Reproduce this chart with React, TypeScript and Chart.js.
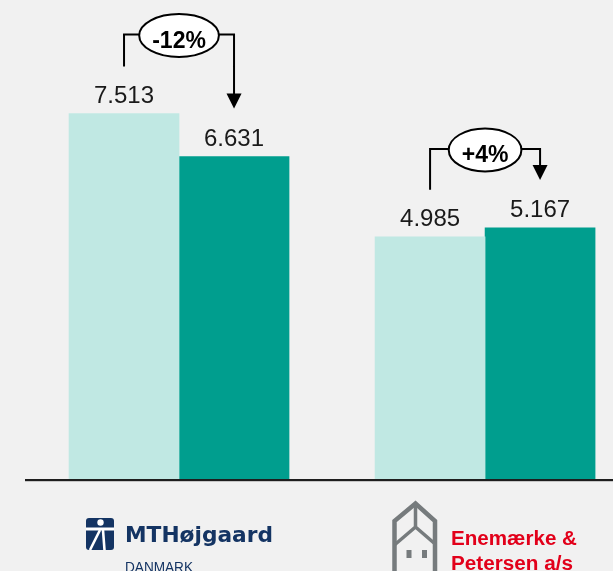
import React, { useEffect, useRef } from "react";
import { Chart, registerables } from "chart.js";

Chart.register(...registerables);

const categories = ["MTHøjgaard", "Enemærke & Petersen a/s"];
const previousValues = [7.513, 4.985];
const currentValues = [6.631, 5.167];
const previousLabels = ["7.513", "4.985"];
const currentLabels = ["6.631", "5.167"];
const changeLabels = ["-12%", "+4%"];

const LIGHT = "#c0e8e3";
const DARK = "#009e8e";
const NAVY = "#143463";
const RED = "#e2001a";
const GRAY = "#767b7d";

function fitText(ctx: CanvasRenderingContext2D, text: string, x: number, y: number, width: number) {
  const w = ctx.measureText(text).width;
  ctx.save();
  ctx.translate(x, y);
  ctx.scale(width / w, 1);
  ctx.fillText(text, 0, 0);
  ctx.restore();
}

const overlayPlugin = {
  id: "overlay",
  afterDatasetsDraw(chart: any) {
    const ctx: CanvasRenderingContext2D = chart.ctx;
    const m0 = chart.getDatasetMeta(0);
    const m1 = chart.getDatasetMeta(1);
    const bottom = chart.chartArea.bottom;
    ctx.save();
    // axis line
    ctx.fillStyle = "#1e1e1e";
    ctx.fillRect(25, bottom - 1, chart.width - 25, 2.2);

    // value labels
    ctx.font = '24px "Liberation Sans", Arial, sans-serif';
    ctx.textAlign = "center";
    ctx.textBaseline = "alphabetic";
    ctx.fillStyle = "#1a1a1a";
    categories.forEach((_, i) => {
      const a = m0.data[i];
      const b = m1.data[i];
      ctx.fillText(previousLabels[i], a.x, a.y - 11);
      ctx.fillText(currentLabels[i], b.x, b.y - 11);
    });

    // change annotations
    categories.forEach((_, i) => {
      const a = m0.data[i];
      const b = m1.data[i];
      const lx = a.x;
      const rx = b.x;
      const lineY = Math.min(a.y, b.y) - 79;
      const leftBottom = a.y - 47;
      const tipY = b.y - 48;
      const cx = (lx + rx) / 2;
      const cy = lineY + 1;
      ctx.font = 'bold 23px "Liberation Sans", Arial, sans-serif';
      const tw = ctx.measureText(changeLabels[i]).width;
      const erx = tw / 2 + 13;
      const ery = 21.5;
      ctx.strokeStyle = "#000";
      ctx.lineWidth = 2;
      ctx.beginPath();
      ctx.moveTo(lx, leftBottom);
      ctx.lineTo(lx, lineY);
      ctx.lineTo(cx, lineY);
      ctx.moveTo(cx, lineY);
      ctx.lineTo(rx, lineY);
      ctx.lineTo(rx, tipY - 14);
      ctx.stroke();
      ctx.fillStyle = "#000";
      ctx.beginPath();
      ctx.moveTo(rx - 7.5, tipY - 15);
      ctx.lineTo(rx + 7.5, tipY - 15);
      ctx.lineTo(rx, tipY);
      ctx.closePath();
      ctx.fill();
      ctx.beginPath();
      ctx.ellipse(cx, cy, erx, ery, 0, 0, Math.PI * 2);
      ctx.fillStyle = "#fff";
      ctx.fill();
      ctx.stroke();
      ctx.fillStyle = "#000";
      ctx.textAlign = "center";
      ctx.fillText(changeLabels[i], cx, cy + 12);
    });

    // MTHøjgaard logo
    ctx.textAlign = "left";
    ctx.fillStyle = NAVY;
    ctx.beginPath();
    (ctx as any).roundRect(86, 518, 28, 32, 3);
    ctx.fill();
    ctx.fillStyle = "#fff";
    ctx.beginPath();
    ctx.arc(100.5, 522.5, 3.2, 0, Math.PI * 2);
    ctx.fill();
    ctx.fillRect(86, 527.5, 28, 3);
    ctx.strokeStyle = "#fff";
    ctx.lineWidth = 2.6;
    ctx.beginPath();
    ctx.moveTo(100, 530);
    ctx.lineTo(90, 550);
    ctx.moveTo(103, 530);
    ctx.lineTo(104.5, 550);
    ctx.stroke();
    ctx.fillStyle = NAVY;
    ctx.font = 'bold 22px "DejaVu Sans", sans-serif';
    fitText(ctx, categories[0], 125, 542, 148);
    ctx.font = '14px "Liberation Sans", Arial, sans-serif';
    fitText(ctx, "DANMARK", 125, 572, 68);

    // Enemærke & Petersen logo
    ctx.strokeStyle = GRAY;
    ctx.lineWidth = 4.5;
    ctx.lineJoin = "miter";
    ctx.beginPath();
    ctx.moveTo(394.5, 580);
    ctx.lineTo(394.5, 521);
    ctx.lineTo(415.5, 503.5);
    ctx.lineTo(435, 521);
    ctx.lineTo(435, 580);
    ctx.stroke();
    ctx.lineWidth = 3.5;
    ctx.beginPath();
    ctx.moveTo(415.5, 504);
    ctx.lineTo(415.5, 528);
    ctx.moveTo(395, 544.5);
    ctx.lineTo(415.5, 527);
    ctx.lineTo(434, 543);
    ctx.stroke();
    ctx.fillStyle = GRAY;
    ctx.fillRect(406.5, 550, 5, 8);
    ctx.fillRect(422, 550, 5, 8);
    ctx.fillStyle = RED;
    ctx.font = 'bold 20px "Liberation Sans", Arial, sans-serif';
    fitText(ctx, "Enemærke &", 451, 545, 126);
    fitText(ctx, "Petersen a/s", 451, 570, 122);
    ctx.restore();
  },
};

export default function App() {
  const ref = useRef<HTMLCanvasElement | null>(null);
  useEffect(() => {
    if (!ref.current) return;
    const chart = new Chart(ref.current, {
      type: "bar",
      data: {
        datasets: [
          {
            label: "Previous",
            data: previousValues.map((v, i) => ({ x: i, y: v })),
            backgroundColor: LIGHT,
            borderWidth: 0,
            barThickness: 110,
          },
          {
            label: "Current",
            data: currentValues.map((v, i) => ({ x: i, y: v })),
            backgroundColor: DARK,
            borderWidth: 0,
            barThickness: 110,
          },
        ],
      },
      options: {
        animation: false,
        responsive: false,
        devicePixelRatio: 1,
        layout: { padding: { top: 0, bottom: 91, left: 0, right: 0 } },
        plugins: { legend: { display: false }, tooltip: { enabled: false } },
        scales: {
          x: { type: "linear", min: -0.585, max: 1.418, offset: false, display: false, grid: { offset: false } },
          y: { min: 0, max: 9.84, display: false },
        },
      },
      plugins: [overlayPlugin],
    } as any);
    return () => chart.destroy();
  }, []);
  return (
    <div
      style={{
        position: "fixed",
        left: 0,
        top: 0,
        width: 613,
        height: 571,
        background: "#f1f1f1",
        overflow: "hidden",
      }}
    >
      <canvas ref={ref} width={613} height={571} style={{ width: 613, height: 571, display: "block" }} />
    </div>
  );
}
